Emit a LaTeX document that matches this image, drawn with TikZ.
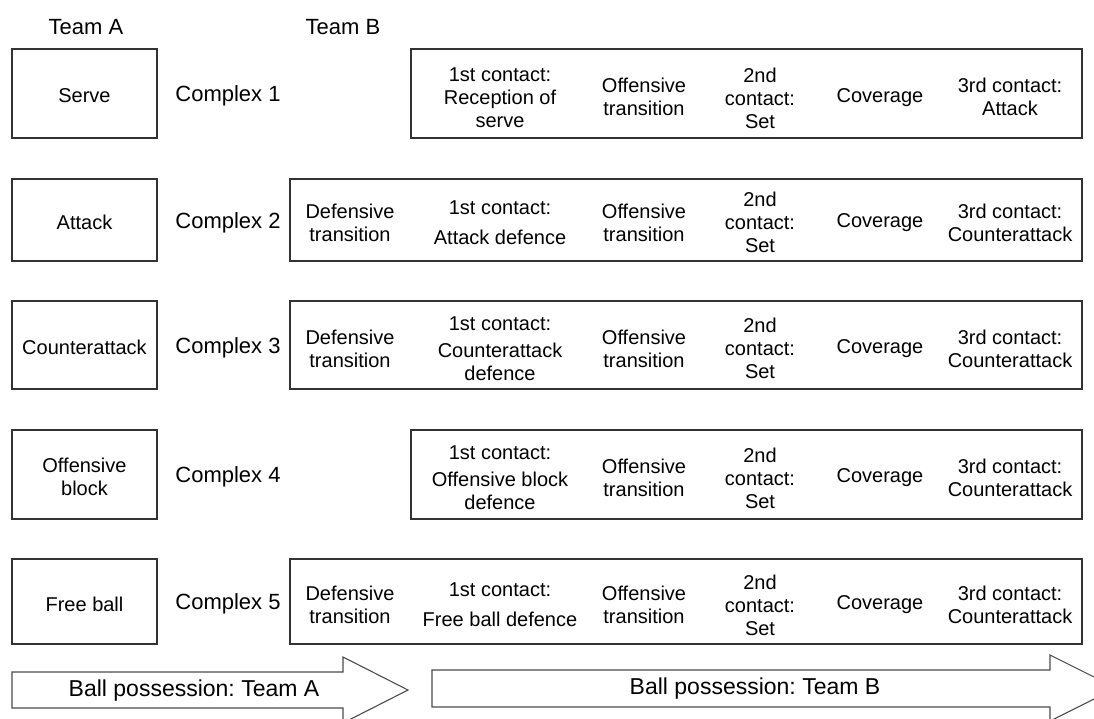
\documentclass[tikz,border=0pt]{standalone}
\usepackage{fontspec}
\setmainfont{Liberation Sans}
\frenchspacing
\begin{document}
\begin{tikzpicture}[x=1pt,y=-1pt,
  box/.style={draw=black!80,line width=1.2pt,inner sep=0pt},
  txt/.style={align=center,font=\fontsize{20}{23}\selectfont,inner sep=0pt,yshift=-2.5pt},
  cpx/.style={font=\fontsize{22}{24}\selectfont,inner sep=0pt,yshift=-2.5pt},
  big/.style={font=\fontsize{23}{26}\selectfont,inner sep=0pt},
  arr/.style={draw=black!70,line width=1.1pt,fill=white}]
\useasboundingbox (0,0) rectangle (1094,718);
\clip (0,0) rectangle (1094,718);
% headers
\node[cpx] (ta) at (86,25) {Team A};
\node[cpx] (tb) at (343,25) {Team B};
% left boxes
\foreach \n/\t/\b/\lab in {1/49/138/Serve,2/179/261/Attack,3/301/389/Counterattack,4/430/519/{Offensive\\block},5/559/644/Free ball}{
  \draw[box] (12,\t) rectangle (157,\b);
  \node[txt] (a\n) at (84.5,{(\t+\b)/2}) {\lab};
  \node[cpx] (c\n) at (228,{(\t+\b)/2}) {Complex \n};
}
% right boxes
\draw[box] (411,49) rectangle (1082,138);
\draw[box] (290,179) rectangle (1082,261);
\draw[box] (290,301) rectangle (1082,389);
\draw[box] (411,430) rectangle (1082,519);
\draw[box] (290,559) rectangle (1082,644);
% row 1
\node[txt] (r1b) at (500,95.5) {1st contact:\\Reception of\\serve};
\node[txt] (r1c) at (644,94) {Offensive\\transition};
\node[txt] (r1d) at (760,95.5) {2nd\\contact:\\Set};
\node[txt] (r1e) at (880,95) {Coverage};
\node[txt] (r1f) at (1010,94) {3rd contact:\\Attack};
% rows 2-5 common columns
\foreach \r/\y in {2/220,3/346,4/475.5,5/602.5}{
  \node[txt] (r\r c) at (644,\y) {Offensive\\transition};
  \node[txt] (r\r d) at (760,\y) {2nd\\contact:\\Set};
  \node[txt] (r\r e) at (880,\y) {Coverage};
  \node[txt] (r\r f) at (1010,\y) {3rd contact:\\Counterattack};
}
\foreach \r/\y in {2/220,3/346,5/602.5}{
  \node[txt] (r\r a) at (350,\y) {Defensive\\transition};
}
\node[txt] (r2b) at (500,220.5) {1st contact:\\[7pt]Attack defence};
\node[txt] (r3b) at (500,346) {1st contact:\\[4pt]Counterattack\\defence};
\node[txt] (r4b) at (500,475) {1st contact:\\[4pt]Offensive block\\defence};
\node[txt] (r5b) at (500,602) {1st contact:\\[7pt]Free ball defence};
% arrows
\draw[arr] (12,672) -- (343,672) -- (343,657) -- (408,690) -- (343,723) -- (343,708) -- (12,708) -- cycle;
\node[big] (pa) at (194,691) {Ball possession: Team A};
\draw[arr] (432,670) -- (1050,670) -- (1050,655) -- (1116,688) -- (1050,721) -- (1050,707) -- (432,707) -- cycle;
\node[big] (pb) at (755,689) {Ball possession: Team B};
\end{tikzpicture}
\end{document}
